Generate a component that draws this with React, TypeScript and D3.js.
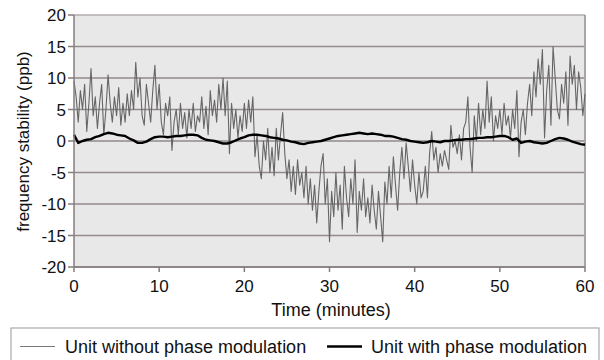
import * as d3 from 'd3';

// Readings taken every 0.25 min for the unit without phase modulation
const timeStep = 0.25;
const withoutPM: number[] = [
  9.5, 7, 3, 8, 5, 9, 1.5, 6, 11.5, 4, 7, 2, 6, 9, 1, 5,
  10.5, 6, 3, 7, 4, 8.5, 2.5, 6, 3, 7.5, 4, 8, 5, 12.5, 7, 10,
  4, 2.5, 9, 6, 3, 8, 12, 5, 9, 3, 1, 6, 4, 7, -1.5, 3,
  5, 1, 6, 2, 4.5, 0.5, 5, 2, 6, 1.5, 4, 3, 7, 2, 5.5, 1,
  8, 4, 6.5, 3, 9, 5, 10, 4, 9.5, -2, 6, 2, 5, 0.5, 4, 1.5,
  6, 2, 6.5, 3, 7, -2.5, 1, -4, -6, 0, -3, 2, -5, -1, -5.5, 2,
  -3, 1, 4.5, -2, -6, -3, -8, -4, -8.5, -3, -7, -5, -9, -4, -10, -6,
  -11, -7, -13, -8, -4, -2, -10, -6, -16, -8, -12, -5, -11, -7, -14, -4,
  -9, -12, -6, -10, -3, -14.5, -8, -11, -6, -12, -9, -13, -7, -11, -14, -8,
  -12, -16, -6.5, -10, -4, -9, -2.5, -7, -11, -5, -1, -6, -0.3, -4, -8, -3,
  -7, -10, -5, -9, -8, -4, -9, -2, 1.5, -3, -1, -5, -2, -4, -1.5, -3,
  -4.5, 2.5, -1, 0, -2, 1, -3, 2, 3, 7, -1, -5, 4, 0, 6, 1,
  5, 2, 9.5, 3, 7, 0, 4, 2, 5, 1, 6, 2.5, 4, 0.5, 5, 2,
  8, -2.5, 3, 5, 1, 6, 9, 4, 11, 7, 13, 9, 14.5, 0.5, 8, 12,
  2.5, 15, 10, 5, 3.5, 9, 6, 11, 2.5, 13.5, 9, 12, 5, 11, 8.5, 4,
  7.5,
];

// Readings every 0.5 min for the unit with phase modulation
const smoothStep = 0.5;
const withPM: number[] = [
  1, -0.3, 0, 0.2, 0.3, 0.6, 0.8, 1.1, 1.3, 1.2, 1.0, 0.9, 0.8, 0.4, 0.1, -0.3,
  -0.3, -0.1, 0.3, 0.6, 0.7, 0.7, 0.6, 0.7, 0.8, 0.8, 0.9, 1.0, 1.0, 0.9, 0.5, 0.2,
  0.1, 0, -0.2, -0.4, -0.4, -0.2, 0.1, 0.4, 0.6, 0.9, 1.0, 1.0, 0.9, 0.8, 0.6, 0.5,
  0.4, 0.2, 0.1, -0.1, -0.2, -0.4, -0.5, -0.3, -0.2, -0.1, 0, 0.2, 0.4, 0.6, 0.8, 0.9,
  1.0, 1.1, 1.2, 1.3, 1.2, 1.1, 1.2, 1.1, 1.0, 0.8, 0.8, 0.7, 0.5, 0.3, 0.2, 0,
  -0.1, -0.2, -0.3, -0.2, 0, -0.1, -0.2, 0, 0, 0.1, 0.2, 0.2, 0.3, 0.3, 0.4, 0.5,
  0.5, 0.6, 0.6, 0.7, 0.8, 0.8, 0.6, 0.2, 0.4, -0.3, -0.1, 0, -0.2, -0.3, -0.4, -0.3,
  0, 0.3, 0.5, 0.4, 0.2, -0.1, -0.3, -0.5, -0.6,
];

const yTicks = [-20, -15, -10, -5, 0, 5, 10, 15, 20];
const xTicks = [0, 10, 20, 30, 40, 50, 60];
const seriesNames = ['Unit without phase modulation', 'Unit with phase modulation'];

const W = 604;
const H = 360;
const plot = { left: 74, right: 585, top: 15, bottom: 267 };
const font = '"Liberation Sans", Arial, Helvetica, sans-serif';

export default function App() {
  const x = d3.scaleLinear().domain([0, 60]).range([plot.left, plot.right]);
  const y = d3.scaleLinear().domain([-20, 20]).range([plot.bottom, plot.top]);

  const line = d3.line<[number, number]>()
    .x(d => x(d[0]))
    .y(d => y(d[1]));

  const noisy: [number, number][] = withoutPM.map((v, i) => [i * timeStep, v]);
  const smooth: [number, number][] = withPM.map((v, i) => [i * smoothStep, v]);

  const gridColor = '#938a8a';

  return (
    <svg width={W} height={H} style={{ position: 'absolute', left: 0, top: 0, background: '#fff' }}
      fontFamily={font}>
      {/* plot area */}
      <rect x={plot.left} y={plot.top} width={plot.right - plot.left} height={plot.bottom - plot.top}
        fill="#e8e8e8" />
      {yTicks.map(t => (
        <line key={t} x1={plot.left} x2={plot.right} y1={y(t)} y2={y(t)}
          stroke={t === 20 ? '#b5aeae' : gridColor} strokeWidth={1.5} />
      ))}
      <line x1={plot.right} x2={plot.right} y1={plot.top} y2={plot.bottom} stroke="#aaa4a4" strokeWidth={2} />

      {/* series */}
      <path d={line(noisy) || ''} fill="none" stroke="#666" strokeWidth={1.1} strokeLinejoin="round" />
      <path d={line(smooth) || ''} fill="none" stroke="#000" strokeWidth={2.4} strokeLinejoin="round" />

      {/* axes */}
      <line x1={plot.left} x2={plot.left} y1={plot.top} y2={plot.bottom} stroke="#857c7c" strokeWidth={1.5} />
      <line x1={plot.left} x2={plot.right} y1={plot.bottom} y2={plot.bottom} stroke="#857c7c" strokeWidth={1.5} />
      {yTicks.map(t => (
        <g key={t}>
          <line x1={plot.left - 6} x2={plot.left} y1={y(t)} y2={y(t)} stroke="#857c7c" strokeWidth={1.5} />
          <text x={66} y={y(t)} dy="0.36em" textAnchor="end" fontSize={17} fill="#111">{t}</text>
        </g>
      ))}
      {xTicks.map(t => (
        <g key={t}>
          <line x1={x(t)} x2={x(t)} y1={plot.bottom} y2={plot.bottom + 5} stroke="#857c7c" strokeWidth={1.5} />
          <text x={x(t)} y={292} textAnchor="middle" fontSize={17} fill="#111">{t}</text>
        </g>
      ))}
      <text x={331} y={316} textAnchor="middle" fontSize={18} fill="#111">Time (minutes)</text>
      <text transform="translate(29,141.5) rotate(-90)" textAnchor="middle" fontSize={17} fill="#111">
        frequency stability (ppb)
      </text>

      {/* legend */}
      <rect x={11} y={328} width={588} height={40} fill="#fff" stroke="#aaa" strokeWidth={1.2} />
      <line x1={20} x2={55} y1={346.5} y2={346.5} stroke="#7a7a7a" strokeWidth={1.2} />
      <text x={65} y={353} fontSize={18} fill="#111">{seriesNames[0]}</text>
      <line x1={327} x2={362} y1={346.5} y2={346.5} stroke="#000" strokeWidth={2.5} />
      <text x={371} y={353} fontSize={18} fill="#111">{seriesNames[1]}</text>
    </svg>
  );
}
